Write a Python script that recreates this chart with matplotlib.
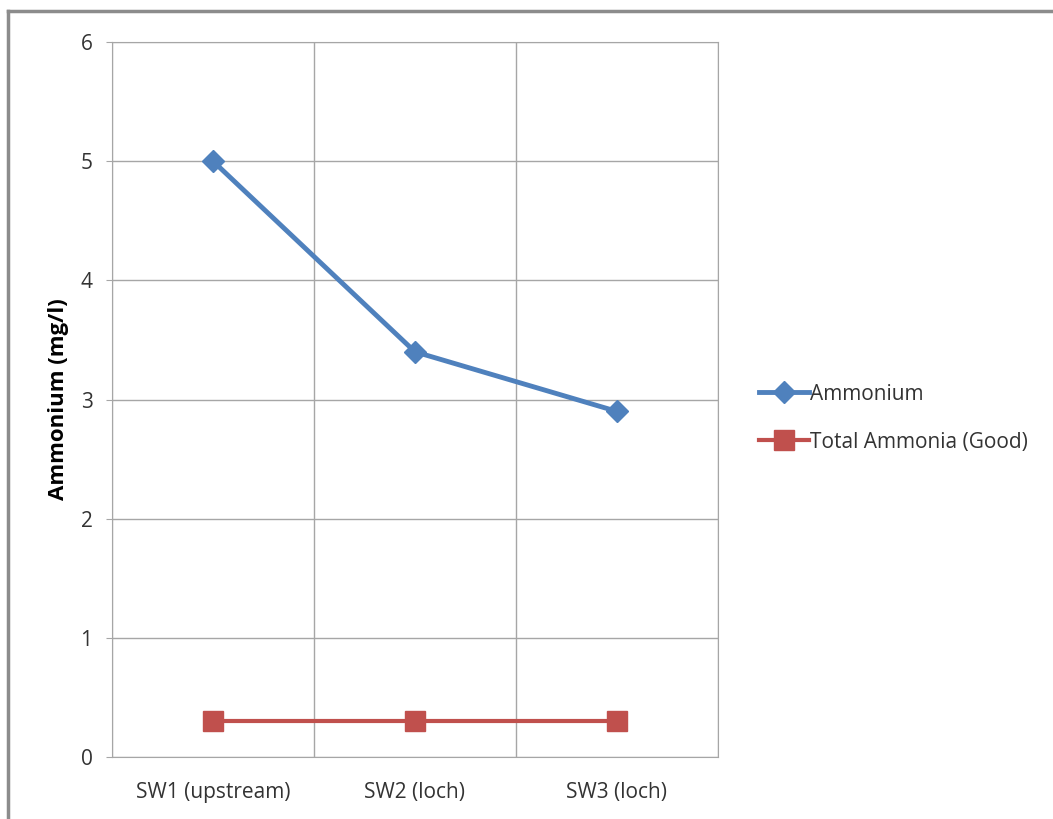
import matplotlib.pyplot as plt
from matplotlib.lines import Line2D

sites = ['SW1 (upstream)', 'SW2 (loch)', 'SW3 (loch)']
ammonium = [5.0, 3.4, 2.9]
total_ammonia_good = [0.3, 0.3, 0.3]

plt.rcParams['font.family'] = ['Open Sans', 'DejaVu Sans']

fig = plt.figure(figsize=(10.53, 8.19), dpi=100)
ax = fig.add_axes([112/1053, 1-757/819, (718-112)/1053, (757-42)/819])

x = range(len(sites))
ax.plot(x, ammonium, color='#4F81BD', lw=3.5, marker='D', markersize=11, label='Ammonium')
ax.plot(x, total_ammonia_good, color='#C0504D', lw=3, marker='s', markersize=15, label='Total Ammonia (Good)')

ax.set_xlim(-0.5, 2.5)
ax.set_ylim(0, 6)
ax.set_xticks(list(x))
ax.set_xticklabels(sites, fontsize=15, color='#333333')
ax.set_xticks([-0.5, 0.5, 1.5, 2.5], minor=True)
ax.tick_params(axis='x', which='major', length=0, pad=18)
ax.tick_params(axis='x', which='minor', length=0)
ax.set_yticks(range(7))
ax.tick_params(axis='y', length=4, color='#a6a6a6', labelsize=15, labelcolor='#333333', pad=10)
ax.grid(True, which='minor', axis='x', color='#a6a6a6', lw=1)
ax.grid(True, which='major', axis='y', color='#a6a6a6', lw=1)
for s in ax.spines.values():
    s.set_color('#a6a6a6')
ax.set_ylabel('Ammonium (mg/l)', fontsize=16, fontweight='bold', labelpad=8)

ax.legend(loc='center left', bbox_to_anchor=(1.036, 0.474), frameon=False, fontsize=15,
          handlelength=2.4, handletextpad=0.05, labelspacing=1.3, labelcolor='#333333')

# outer chart border (partially visible)
fig.add_artist(Line2D([8/1053, 8/1053], [0, 1-11/819], color='#8c8c8c', lw=2.5, transform=fig.transFigure))
fig.add_artist(Line2D([8/1053, 1], [1-11/819, 1-11/819], color='#8c8c8c', lw=2.5, transform=fig.transFigure))

fig.savefig('out.png', dpi=100)
